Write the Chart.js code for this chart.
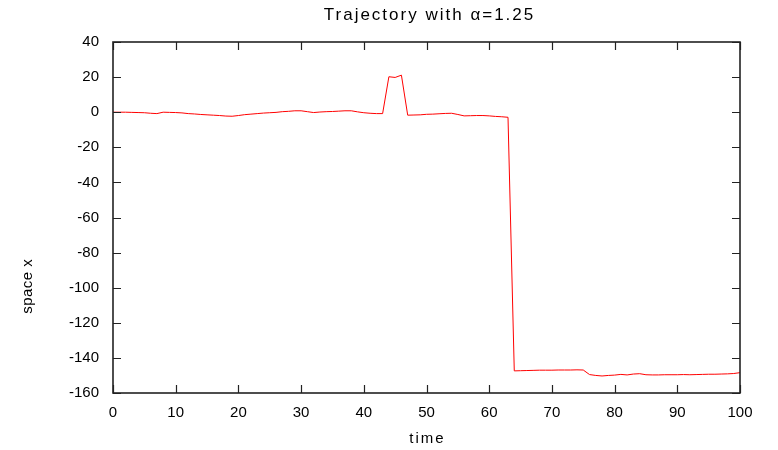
<!DOCTYPE html>
<html>
<head>
<meta charset="utf-8">
<script src="https://cdn.jsdelivr.net/npm/chart.js@4/dist/chart.umd.min.js"></script>
<style>
  html, body { margin: 0; padding: 0; background: #fff; }
  #wrap { width: 778px; height: 450px; }
</style>
</head>
<body>
<div id="wrap"><canvas id="c" width="778" height="450"></canvas></div>
<script>
// Time steps 0..100 and the particle position at each step
const times = Array.from({ length: 101 }, (_, i) => i);
const positions = [
  0, 0, 0, -0.1, -0.2, -0.3, -0.6, -0.8, 0, -0.1,
  -0.2, -0.4, -0.8, -1.0, -1.3, -1.5, -1.7, -1.9, -2.2, -2.3,
  -1.9, -1.4, -1.1, -0.8, -0.5, -0.3, -0.1, 0.3, 0.5, 0.8,
  0.8, 0.3, -0.2, 0.1, 0.3, 0.4, 0.6, 0.8, 0.8, 0.2,
  -0.3, -0.6, -0.8, -0.8, 20.2, 19.8, 21.1, -1.7, -1.6, -1.5,
  -1.2, -1.1, -0.9, -0.7, -0.6, -1.3, -2.1, -2.0, -1.9, -1.9,
  -2.1, -2.4, -2.6, -2.9, -147.4, -147.3, -147.2, -147.1, -147.0, -147.0,
  -147.0, -146.9, -146.9, -146.9, -146.8, -146.9, -149.5, -150.0, -150.3, -150.0,
  -149.8, -149.4, -149.7, -149.2, -149.0, -149.6, -149.7, -149.7, -149.6, -149.6,
  -149.6, -149.5, -149.6, -149.5, -149.4, -149.3, -149.3, -149.2, -149.1, -148.9,
  -148.4
];
const xTicks = [0, 10, 20, 30, 40, 50, 60, 70, 80, 90, 100];
const yTicks = [40, 20, 0, -20, -40, -60, -80, -100, -120, -140, -160];

const FONT = "'Liberation Sans', Arial, sans-serif";
const TITLE = 'Trajectory with α=1.25';
const X_TITLE = 'time';
const Y_TITLE = 'space x';

function drawText(ctx, text, x, y, size, spacing, angle) {
  ctx.save();
  ctx.translate(x, y);
  if (angle) ctx.rotate(angle);
  ctx.fillStyle = '#000';
  ctx.font = size + 'px ' + FONT;
  ctx.letterSpacing = spacing + 'px';
  ctx.textAlign = 'center';
  ctx.textBaseline = 'middle';
  ctx.fillText(text, spacing / 2, 0);
  ctx.restore();
}

// Inward tick marks on all four sides, the frame, and the titles
const frameTicks = {
  id: 'frameTicks',
  afterDraw(chart) {
    const { ctx, chartArea: a, scales } = chart;
    const len = 8;
    ctx.save();
    ctx.strokeStyle = '#222';
    ctx.lineWidth = 1.2;
    ctx.beginPath();
    xTicks.forEach(v => {
      const x = Math.round(scales.x.getPixelForValue(v)) + 0.5;
      ctx.moveTo(x, a.bottom); ctx.lineTo(x, a.bottom - len);
      ctx.moveTo(x, a.top); ctx.lineTo(x, a.top + len);
    });
    yTicks.forEach(v => {
      const y = Math.round(scales.y.getPixelForValue(v)) + 0.5;
      ctx.moveTo(a.left, y); ctx.lineTo(a.left + len, y);
      ctx.moveTo(a.right, y); ctx.lineTo(a.right - len, y);
    });
    ctx.stroke();
    ctx.lineWidth = 1.6;
    ctx.strokeRect(a.left, a.top, a.right - a.left, a.bottom - a.top);
    ctx.restore();

    const cx = (a.left + a.right) / 2;
    drawText(ctx, TITLE, cx + 2, 15, 17, 2, 0);
    drawText(ctx, X_TITLE, cx, 439, 15, 2, 0);
    drawText(ctx, Y_TITLE, 28, scales.y.getPixelForValue(-60) + 69, 15, 0.5, -Math.PI / 2);
  }
};

new Chart(document.getElementById('c'), {
  type: 'line',
  data: {
    datasets: [{
      data: times.map((t, i) => ({ x: t, y: positions[i] })),
      borderColor: '#ff0000',
      borderWidth: 1,
      pointRadius: 0,
      tension: 0,
      fill: false
    }]
  },
  options: {
    responsive: false,
    animation: false,
    layout: { padding: { left: 0, right: 38, top: 42, bottom: 0 } },
    plugins: {
      legend: { display: false },
      tooltip: { enabled: false },
      title: { display: false }
    },
    scales: {
      x: {
        type: 'linear',
        min: 0, max: 100,
        afterBuildTicks: s => { s.ticks = xTicks.map(v => ({ value: v })); },
        afterFit: s => { s.height = 57; },
        grid: { display: false, drawTicks: false },
        border: { display: false },
        ticks: { color: '#000', padding: 11, maxRotation: 0, font: { family: FONT, size: 15 } },
        title: { display: false }
      },
      y: {
        type: 'linear',
        min: -160, max: 40,
        afterBuildTicks: s => { s.ticks = yTicks.map(v => ({ value: v })); },
        afterFit: s => { s.width = 113; },
        grid: { display: false, drawTicks: false },
        border: { display: false },
        ticks: { color: '#000', padding: 14, font: { family: FONT, size: 15 } },
        title: { display: false }
      }
    }
  },
  plugins: [frameTicks]
});
</script>
</body>
</html>
